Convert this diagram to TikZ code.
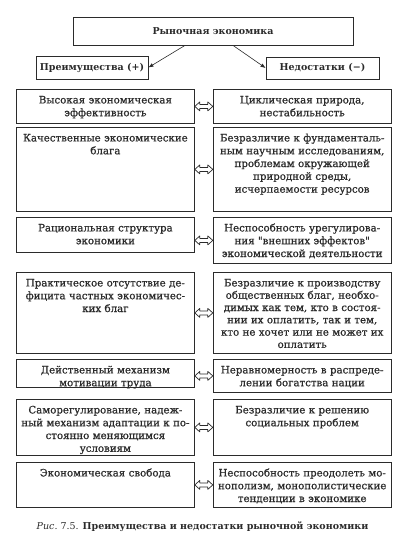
\documentclass[tikz,border=0pt]{standalone}
\usepackage{fontspec}
\setmainfont{DejaVu Serif}
\newfontfamily\cellfont{DejaVu Serif}[FakeBold=0.9]
\usetikzlibrary{arrows.meta,positioning,calc}
\definecolor{InkGray}{HTML}{2B2B2B}

\begin{document}
\begin{tikzpicture}[
  x=1pt, y=-1pt,
  font=\cellfont\fontsize{10.2}{12.8}\selectfont, text=InkGray,
  box/.style={draw=InkGray, line width=0.8pt, anchor=north west, text width=172pt, align=center,
    inner xsep=3pt, inner ysep=5pt, text height=9pt, text depth=#1},
  head/.style={draw=InkGray, line width=0.8pt, font=\normalfont\fontsize{9.5}{12}\selectfont\bfseries},
  arrow/.style={-{Latex[length=5pt,width=4pt]}, InkGray, line width=0.6pt},
  pair/.style={draw=InkGray, line width=0.7pt, line join=round}
]
\useasboundingbox (0,0) rectangle (417,542);

\node[head, minimum width=280pt, minimum height=28pt] (market) at (213,31) {Рыночная экономика};
\node[head, minimum width=112pt, minimum height=23pt] (plus) at (92,67.5) {Преимущества (+)};
\node[head, minimum width=113pt, minimum height=22pt] (minus) at (322.5,68) {Недостатки (−)};

\draw[arrow] ([xshift=-28pt]market.south) -- (plus.east);
\draw[arrow] ([xshift=20pt]market.south) -- (minus.west);

% advantages
\node[box=15pt] (l1) at (16,89) {Высокая экономическая\\эффективность};
\node[box=65pt] (l2) at (16,127) {Качественные экономические\\блага};
\node[box=16pt] (l3) at (16,217) {Рациональная структура\\экономики};
\node[box=62pt] (l4) at (16,272) {Практическое отсутствие де-\\фицита частных экономичес-\\ких благ};
\node[box=9pt] (l5) at (16,359) {Действенный механизм\\мотивации труда};
\node[box=37pt] (l6) at (16,399) {Саморегулирование, надеж-\\ный механизм адаптации к по-\\стоянно меняющимся\\условиям};
\node[box=26pt] (l7) at (16,462) {Экономическая свобода};

% disadvantages
\node[box=15pt] (r1) at ([xshift=18pt]l1.north east) {Циклическая природа,\\нестабильность};
\node[box=65pt] (r2) at ([xshift=18pt]l2.north east) {Безразличие к фундаменталь-\\ным научным исследованиям,\\проблемам окружающей\\природной среды,\\исчерпаемости ресурсов};
\node[box=27pt] (r3) at ([xshift=18pt]l3.north east) {Неспособность урегулирова-\\ния \symbol{34}внешних эффектов\symbol{34}\\экономической деятельности};
\node[box=62pt, font=\cellfont\fontsize{10.2}{12.3}\selectfont] (r4) at ([xshift=18pt]l4.north east) {Безразличие к производству\\общественных благ, необхо-\\димых как тем, кто в состоя-\\нии их оплатить, так и тем,\\кто не хочет или не может их\\оплатить};
\node[box=14pt] (r5) at ([xshift=18pt]l5.north east) {Неравномерность в распреде-\\лении богатства нации};
\node[box=37pt] (r6) at ([xshift=18pt]l6.north east) {Безразличие к решению\\социальных проблем};
\node[box=26pt] (r7) at ([xshift=18pt]l7.north east) {Неспособность преодолеть мо-\\нополизм, монополистические\\тенденции в экономике};

% hollow double arrows between the columns
\foreach \i in {1,...,7}
  \draw[pair] (l\i.east |- r\i.west) -- ++(5,-4.5) -- ++(0,2.5) -- ++(8,0) -- ++(0,-2.5)
    -- (r\i.west) -- ++(-5,4.5) -- ++(0,-2.5) -- ++(-8,0) -- ++(0,2.5) -- cycle;

\node[font=\normalfont\fontsize{9.5}{12}\selectfont] (caption) at (202.5,527) {{\itshape Рис.}~7.5. {\bfseries Преимущества и недостатки рыночной экономики}};
\end{tikzpicture}
\end{document}
